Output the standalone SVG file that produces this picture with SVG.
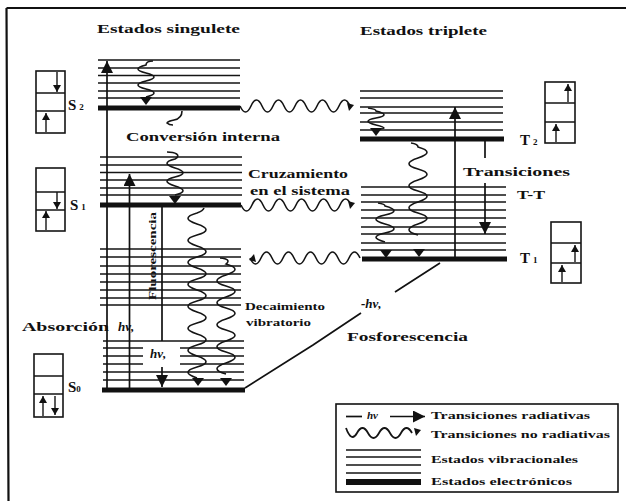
<svg xmlns="http://www.w3.org/2000/svg" xmlns:xlink="http://www.w3.org/1999/xlink" width="626" height="501" viewBox="0 0 626 501">
<style>
text{font-family:"Liberation Serif","DejaVu Serif",serif;font-weight:bold;fill:#111;font-size:13px}
.s{font-size:11px}
.n{font-size:15px}
.i{font-style:italic}
.sub{font-size:9px}
.v{stroke:#151515;stroke-width:1.4;fill:none}
.e{stroke:#111;stroke-width:5;fill:none}
.l{stroke:#111;stroke-width:1.7;fill:none}
.w{stroke:#151515;stroke-width:1.6;fill:none}
.b{stroke:#151515;stroke-width:1.6;fill:#fff}
.bl{stroke:#151515;stroke-width:1.4;fill:none}
</style>
<defs>
<marker id="big" markerUnits="userSpaceOnUse" markerWidth="14" markerHeight="14" refX="12" refY="6" orient="auto"><path d="M0 0L12 6L0 12Z" fill="#111"/></marker>
<marker id="sm" markerUnits="userSpaceOnUse" markerWidth="9" markerHeight="10" refX="7" refY="4" orient="auto"><path d="M0 0L7 4L0 8Z" fill="#111"/></marker>
<path id="hd" d="M-6 -8L6 -8L0 0Z" fill="#111"/>
<path id="hr" d="M-7 -4L0 -2L-5 4Z" fill="#111"/>
<g id="vs2"><path class="v" d="M0 0H142M0 8H142M0 15.500H142M0 23H142M0 31H142M0 38H142"/></g>
</defs>
<rect width="626" height="501" fill="#fff"/>
<path id="frame" d="M6.500 8H626M6.500 8L8.500 501" stroke="#111" stroke-width="2.200" fill="none"/>

<g id="level-S2">
<use xlink:href="#vs2" href="#vs2" x="98" y="60"/>
<path class="e" d="M98 108H240"/>
<text class="n" x="68" y="110">S<tspan class="sub" dx="3">2</tspan></text>
<g id="box-S2"><rect class="b" x="36" y="71" width="29" height="62"/><path class="bl" d="M36 93H65M36 111H65"/><path class="bl" marker-end="url(#sm)" d="M57 72V92"/><path class="bl" marker-end="url(#sm)" d="M46 132V113"/></g>
</g>

<g id="level-S1">
<use xlink:href="#vs2" href="#vs2" x="100" y="157"/>
<path class="v" d="M100 249H241M100 257H241M100 266H241M100 274H241M100 282H241M100 290H241M100 298H241M100 305H241"/>
<path class="e" d="M100 205H241"/>
<text class="n" x="70" y="210">S<tspan class="sub" dx="3">1</tspan></text>
<g id="box-S1"><rect class="b" x="36" y="168" width="29" height="63"/><path class="bl" d="M36 192H65M36 210H65"/><path class="bl" marker-end="url(#sm)" d="M57 192V209"/><path class="bl" marker-end="url(#sm)" d="M46 230V211"/></g>
</g>

<g id="level-S0">
<path class="v" d="M103 341H244M103 348H244M103 356H244M103 364H244M103 372H244M103 380H244"/>
<rect x="143" y="343" width="37" height="24" fill="#fff"/>
<path class="e" d="M102 390H245"/>
<text class="n" x="68" y="392">S<tspan class="sub">0</tspan></text>
<g id="box-S0"><rect class="b" x="34" y="354" width="29" height="63"/><path class="bl" d="M34 376H63M34 394H63"/><path class="bl" marker-end="url(#sm)" d="M43 416V396"/><path class="bl" marker-end="url(#sm)" d="M55 396V415"/></g>
</g>

<g id="level-T2">
<path class="v" d="M360 91H503M360 98H503M360 107H503M360 113H503M360 122H503M360 130H503"/>
<path class="e" d="M360 139H504"/>
<text class="n" x="520" y="145">T<tspan class="sub" dx="3">2</tspan></text>
<g id="box-T2"><rect class="b" x="545" y="82" width="30" height="61"/><path class="bl" d="M545 103H575M545 122H575"/><path class="bl" marker-end="url(#sm)" d="M568 102V84"/><path class="bl" marker-end="url(#sm)" d="M556 142V124"/></g>
</g>

<g id="level-T1">
<path class="v" d="M361 187H506M361 195H506M361 202H506M361 210H506M361 218H506M361 227H506M361 234H506M361 243H506M361 250H506"/>
<path class="e" d="M362 259H507"/>
<text class="n" x="520" y="263">T<tspan class="sub" dx="3">1</tspan></text>
<g id="box-T1"><rect class="b" x="551" y="222" width="30" height="61"/><path class="bl" d="M551 243H581M551 263H581"/><path class="bl" marker-end="url(#sm)" d="M575 262V245"/><path class="bl" marker-end="url(#sm)" d="M562 282V265"/></g>
</g>

<g id="connectors">
<path class="l" marker-end="url(#big)" d="M107 390V61"/>
<path class="l" marker-end="url(#big)" d="M129.500 390V174"/>
<path class="l" d="M162 207V341"/>
<path class="l" marker-end="url(#big)" d="M162 367V387"/>
<path class="l" marker-end="url(#big)" d="M455 259V107"/>
<path class="l" d="M485 141V158"/>
<path class="l" marker-end="url(#big)" d="M485 183V234"/>
<path class="l" d="M245 388L313 345L361 313M395 292L440 263"/>

<path class="w" d="M153 61q-7 0 -7 4q-16 4 0 8t0 8t0 8t0 8"/>
<use xlink:href="#hd" href="#hd" x="146" y="105"/>
<path class="w" d="M182 111c0 5 -3 8 -8 9c-4 1 -6 1 -7 3c1 1 4 2 6 2"/>

<path class="w" d="M167 152c8 0 15 3 8 7q-16 4 0 9t0 9t0 9t0 9"/>
<use xlink:href="#hd" href="#hd" x="175" y="204"/>

<path class="w" d="M204 208q-1 3 -7 5q-18 5 0 11t0 11t0 11t0 11t0 11t0 11t0 11t0 11t0 11t0 11t0 11t0 11t0 11t0 11t0 11"/>
<use xlink:href="#hd" href="#hd" x="198" y="386"/>
<path class="w" d="M220 258q12 1 6 6q18 5 0 11t0 11t0 11t0 11t0 11t0 11t0 11t0 11t0 11t0 11"/>
<use xlink:href="#hd" href="#hd" x="226" y="386"/>

<path class="w" d="M240 106q5.500 12 11 0t11 0t11 0t11 0t11 0t11 0t11 0t11 0t11 0t11 0"/>
<use xlink:href="#hr" href="#hr" x="354" y="107"/>
<path class="w" d="M241 205q5.500 12 11 0t11 0t11 0t11 0t11 0t11 0t11 0t11 0t11 0t11 0"/>
<use xlink:href="#hr" href="#hr" x="355" y="205"/>
<path class="w" d="M360 258q-5.500 -12 -11 0t-11 0t-11 0t-11 0t-11 0t-11 0t-11 0t-11 0t-11 0t-11 0"/>
<use xlink:href="#hr" href="#hr" transform="translate(249 258) rotate(180)"/>

<path class="w" d="M368 108q8 1 8 3q16 4 0 7t0 7t0 4"/>
<use xlink:href="#hd" href="#hd" x="376" y="136"/>
<path class="w" d="M411 143q7 1 7 4q18 5 0 11t0 11t0 11t0 11t0 11t0 11t0 11t0 11"/>
<use xlink:href="#hd" href="#hd" x="419" y="257"/>
<path class="w" d="M378 203q7 1 7 3q18 5 0 9t0 9t0 9t0 9"/>
<use xlink:href="#hd" href="#hd" x="386" y="258"/>
</g>

<text id="t-sing" x="97" y="33" textLength="143" lengthAdjust="spacingAndGlyphs">Estados singulete</text>
<text id="t-trip" x="360" y="35" textLength="127" lengthAdjust="spacingAndGlyphs">Estados triplete</text>
<text x="126" y="141" textLength="154" lengthAdjust="spacingAndGlyphs">Conversión interna</text>
<text x="248" y="178" textLength="100" lengthAdjust="spacingAndGlyphs">Cruzamiento</text>
<text x="250" y="195" textLength="100" lengthAdjust="spacingAndGlyphs">en el sistema</text>
<text x="463" y="176" textLength="107" lengthAdjust="spacingAndGlyphs">Transiciones</text>
<text x="517" y="199" textLength="28" lengthAdjust="spacingAndGlyphs">T-T</text>
<text class="s" transform="translate(156 300) rotate(-90)" textLength="88" lengthAdjust="spacingAndGlyphs">Fluorescencia</text>
<text x="22" y="331" textLength="87" lengthAdjust="spacingAndGlyphs">Absorción</text>
<text class="i" x="118" y="331">hν,</text>
<text class="i" x="150" y="358">hν,</text>
<text class="s" x="245" y="310" textLength="80" lengthAdjust="spacingAndGlyphs">Decaimiento</text>
<text class="s" x="246" y="326" textLength="65" lengthAdjust="spacingAndGlyphs">vibratorio</text>
<text class="i" x="361" y="308">-hν,</text>
<text x="347" y="341" textLength="121" lengthAdjust="spacingAndGlyphs">Fosforescencia</text>

<g id="legend">
<rect x="336" y="404" width="282" height="88" fill="#fff" stroke="#111" stroke-width="1.6"/>
<path class="l" d="M346 416.500H362"/>
<text class="i s" x="367" y="419">hν</text>
<path class="l" marker-end="url(#big)" d="M390 416.500H425"/>
<path class="w" style="stroke-width:1.8" d="M346 428q5.500 15 11 5t11 0t11 0t11 0t11 0t11 0"/>
<use xlink:href="#hr" href="#hr" x="421" y="432"/>
<path class="v" d="M346 450H421M346 457H421M346 465H421M346 473H421"/>
<path class="e" style="stroke-width:6" d="M346 482H421"/>
<text class="s" x="431" y="419" textLength="159" lengthAdjust="spacingAndGlyphs">Transiciones radiativas</text>
<text class="s" x="431" y="438" textLength="179" lengthAdjust="spacingAndGlyphs">Transiciones no radiativas</text>
<text class="s" x="431" y="463" textLength="147" lengthAdjust="spacingAndGlyphs">Estados vibracionales</text>
<text class="s" x="431" y="485" textLength="141" lengthAdjust="spacingAndGlyphs">Estados electrónicos</text>
</g>
</svg>
